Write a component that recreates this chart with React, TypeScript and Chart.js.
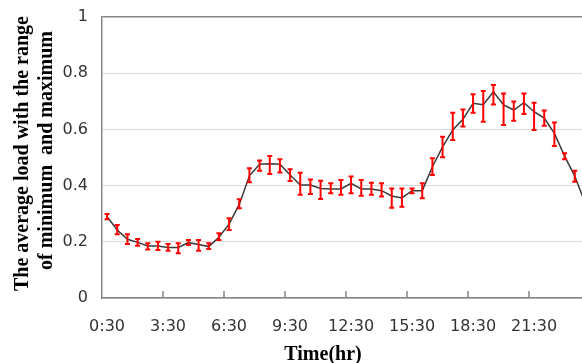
import React, { useEffect, useRef } from "react";
import { Chart, registerables } from "chart.js";

Chart.register(...registerables);

const timeLabels: string[] = Array.from({ length: 48 }, (_, i) => {
  const m = (i + 1) * 30;
  return `${Math.floor(m / 60)}:${m % 60 === 0 ? "00" : "30"}`;
});

const meanLoad: number[] = [
  0.289, 0.242, 0.209, 0.198, 0.185, 0.185, 0.18, 0.18, 0.197, 0.19, 0.183, 0.216,
  0.263, 0.333, 0.435, 0.476, 0.478, 0.476, 0.438, 0.402, 0.402, 0.39, 0.388, 0.388,
  0.408, 0.388, 0.388, 0.382, 0.363, 0.356, 0.382, 0.382, 0.467, 0.538, 0.598, 0.636,
  0.693, 0.688, 0.734, 0.687, 0.669, 0.695, 0.663, 0.64, 0.586, 0.505, 0.434, 0.34,
];

const maxLoad: number[] = [
  0.299, 0.26, 0.227, 0.21, 0.195, 0.2, 0.192, 0.195, 0.206, 0.206, 0.195, 0.23,
  0.284, 0.351, 0.462, 0.489, 0.505, 0.494, 0.458, 0.446, 0.422, 0.417, 0.408, 0.42,
  0.432, 0.42, 0.41, 0.408, 0.39, 0.39, 0.39, 0.408, 0.497, 0.574, 0.659, 0.671,
  0.725, 0.737, 0.758, 0.728, 0.699, 0.728, 0.695, 0.667, 0.625, 0.515, 0.453, 0.35,
];

const minLoad: number[] = [
  0.28, 0.227, 0.192, 0.186, 0.173, 0.171, 0.168, 0.159, 0.189, 0.168, 0.174, 0.206,
  0.242, 0.319, 0.412, 0.453, 0.441, 0.447, 0.416, 0.367, 0.37, 0.352, 0.373, 0.367,
  0.373, 0.364, 0.367, 0.361, 0.321, 0.325, 0.373, 0.355, 0.438, 0.501, 0.562, 0.61,
  0.659, 0.627, 0.689, 0.616, 0.631, 0.655, 0.598, 0.613, 0.541, 0.494, 0.414, 0.33,
];

const LABEL_EVERY = 6;
const yTitleLines = ["The average load with the range", "of minimum  and maximum"];
const xTitle = "Time(hr)";

const errorBarPlugin = {
  id: "errorBars",
  afterDatasetsDraw(chart: any) {
    const { ctx, scales } = chart;
    const xs = scales.x;
    const ys = scales.y;
    ctx.save();
    ctx.strokeStyle = "#ff0000";
    ctx.lineWidth = 2;
    const cap = 2.5;
    for (let i = 0; i < meanLoad.length; i++) {
      const x = xs.getPixelForValue(i);
      const yHi = ys.getPixelForValue(maxLoad[i]);
      const yLo = ys.getPixelForValue(minLoad[i]);
      ctx.beginPath();
      ctx.moveTo(x, yHi);
      ctx.lineTo(x, yLo);
      ctx.moveTo(x - cap, yHi);
      ctx.lineTo(x + cap, yHi);
      ctx.moveTo(x - cap, yLo);
      ctx.lineTo(x + cap, yLo);
      ctx.stroke();
    }
    ctx.restore();
  },
};

const decorPlugin = {
  id: "decor",
  afterDraw(chart: any) {
    const { ctx, scales, chartArea } = chart;
    const xs = scales.x;
    ctx.save();
    ctx.strokeStyle = "#868686";
    ctx.lineWidth = 1.5;
    for (let k = LABEL_EVERY; k < meanLoad.length; k += LABEL_EVERY) {
      const x = Math.round((xs.getPixelForValue(k - 1) + xs.getPixelForValue(k)) / 2);
      ctx.beginPath();
      ctx.moveTo(x, chartArea.bottom - 7);
      ctx.lineTo(x, chartArea.bottom);
      ctx.stroke();
    }
    ctx.fillStyle = "#000";
    ctx.font = "bold 20px 'Liberation Serif'";
    ctx.textAlign = "center";
    ctx.textBaseline = "middle";
    const cy = (chartArea.top + chartArea.bottom) / 2;
    ctx.save();
    ctx.translate(23, cy - 4);
    ctx.rotate(-Math.PI / 2);
    ctx.fillText(yTitleLines[0], 0, 0);
    ctx.restore();
    ctx.save();
    ctx.translate(47, cy - 7);
    ctx.rotate(-Math.PI / 2);
    ctx.fillText(yTitleLines[1], 0, 0);
    ctx.restore();
    ctx.textBaseline = "alphabetic";
    ctx.fillText(xTitle, 323, 360);
    ctx.restore();
  },
};

export default function App() {
  const ref = useRef<HTMLCanvasElement>(null);
  useEffect(() => {
    if (!ref.current) return;
    const chart = new Chart(ref.current, {
      type: "line",
      data: {
        labels: timeLabels,
        datasets: [
          {
            data: meanLoad,
            borderColor: "#3a3a3a",
            borderWidth: 1.5,
            pointRadius: 0,
            tension: 0,
            fill: false,
          },
        ],
      },
      options: {
        animation: false,
        responsive: false,
        devicePixelRatio: 1,
        layout: { padding: { left: 0, top: 0, right: 30, bottom: 0 } },
        plugins: { legend: { display: false }, tooltip: { enabled: false }, title: { display: false } },
        scales: {
          x: {
            type: "category",
            offset: true,
            grid: { display: false, drawTicks: false },
            border: { display: true, color: "#868686", width: 1.5 },
            ticks: {
              autoSkip: false,
              maxRotation: 0,
              minRotation: 0,
              padding: 19,
              color: "#333",
              font: { family: "'DejaVu Sans'", size: 16 },
              callback: (_v: any, i: number) => (i % LABEL_EVERY === 0 ? timeLabels[i] : ""),
            },
            afterFit: (s: any) => {
              s.height = 65;
            },
          },
          y: {
            min: 0,
            max: 1,
            grid: {
              drawTicks: false,
              color: (c: any) => (c.tick && c.tick.value === 1 ? "#868686" : "#d9d9d9"),
              lineWidth: (c: any) => (c.tick && c.tick.value === 1 ? 1.5 : 1),
            },
            border: { display: true, color: "#868686", width: 1.5 },
            ticks: {
              stepSize: 0.2,
              padding: 14,
              color: "#333",
              font: { family: "'DejaVu Sans'", size: 16 },
              callback: (v: any) => String(Math.round(Number(v) * 10) / 10),
            },
            afterFit: (s: any) => {
              s.width = 102;
              s.paddingTop = 17;
            },
          },
        },
      },
      plugins: [errorBarPlugin, decorPlugin],
    });
    return () => chart.destroy();
  }, []);
  return (
    <div style={{ position: "fixed", left: 0, top: 0, width: 582, height: 363, overflow: "hidden", background: "#fff" }}>
      <canvas ref={ref} width={620} height={363} style={{ display: "block" }} />
    </div>
  );
}
